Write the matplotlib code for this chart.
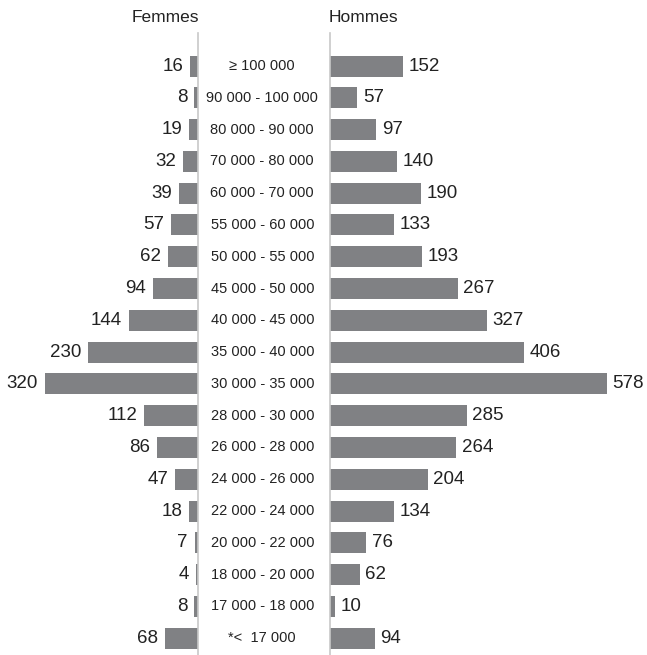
import matplotlib.pyplot as plt

categories = ["\u2265 100 000", "90 000 - 100 000", "80 000 - 90 000", "70 000 - 80 000",
              "60 000 - 70 000", "55 000 - 60 000", "50 000 - 55 000", "45 000 - 50 000",
              "40 000 - 45 000", "35 000 - 40 000", "30 000 - 35 000", "28 000 - 30 000",
              "26 000 - 28 000", "24 000 - 26 000", "22 000 - 24 000", "20 000 - 22 000",
              "18 000 - 20 000", "17 000 - 18 000", "*<  17 000"]
femmes = [16, 8, 19, 32, 39, 57, 62, 94, 144, 230, 320, 112, 86, 47, 18, 7, 4, 8, 68]
hommes = [152, 57, 97, 140, 190, 133, 193, 267, 327, 406, 578, 285, 264, 204, 134, 76, 62, 10, 94]

plt.rcParams['font.family'] = ['Liberation Sans Narrow', 'Liberation Sans', 'DejaVu Sans']

W, H = 647, 655
bar_col = '#808184'
line_col = '#c8c8c8'
scale = 0.479  # px per unit

fig = plt.figure(figsize=(W / 100, H / 100), dpi=100)

top_px, bot_px = 33, 655
ax_l = fig.add_axes([0, 1 - bot_px / H, 198 / W, (bot_px - top_px) / H])
ax_r = fig.add_axes([330 / W, 1 - bot_px / H, (W - 330) / W, (bot_px - top_px) / H])

ys = list(range(len(categories)))
ax_l.barh(ys, femmes, height=0.66, color=bar_col)
ax_r.barh(ys, hommes, height=0.66, color=bar_col)

ax_l.set_xlim(198 / scale, 0)
ax_r.set_xlim(0, (W - 330) / scale)
for ax in (ax_l, ax_r):
    ax.set_ylim(18.53, -1.04)
    ax.set_xticks([])
    ax.set_yticks([])
    for s in ax.spines.values():
        s.set_visible(False)
ax_l.spines['right'].set_visible(True)
ax_l.spines['right'].set_color(line_col)
ax_l.spines['right'].set_linewidth(1.2)
ax_r.spines['left'].set_visible(True)
ax_r.spines['left'].set_color(line_col)
ax_r.spines['left'].set_linewidth(1.2)

for y, v in zip(ys, femmes):
    ax_l.annotate(str(v), (v, y), xytext=(-5, 0), textcoords='offset points',
                  ha='right', va='center', fontsize=13.5, color='#222222')
for y, v in zip(ys, hommes):
    ax_r.annotate(str(v), (v, y), xytext=(4, 0), textcoords='offset points',
                  ha='left', va='center', fontsize=13.5, color='#222222')

for y, c in zip(ys, categories):
    ax_r.annotate(c, (0, y), xytext=(-65 * 0.75, 0), textcoords='offset points',
                  ha='center', va='center', fontsize=10.5, color='#222222')

fig.text(165 / W, 1 - 18 / H, "Femmes", ha='center', va='center', fontsize=12.5, color='#222222')
fig.text(363 / W, 1 - 18 / H, "Hommes", ha='center', va='center', fontsize=12.5, color='#222222')

fig.savefig('out.png', dpi=100)
